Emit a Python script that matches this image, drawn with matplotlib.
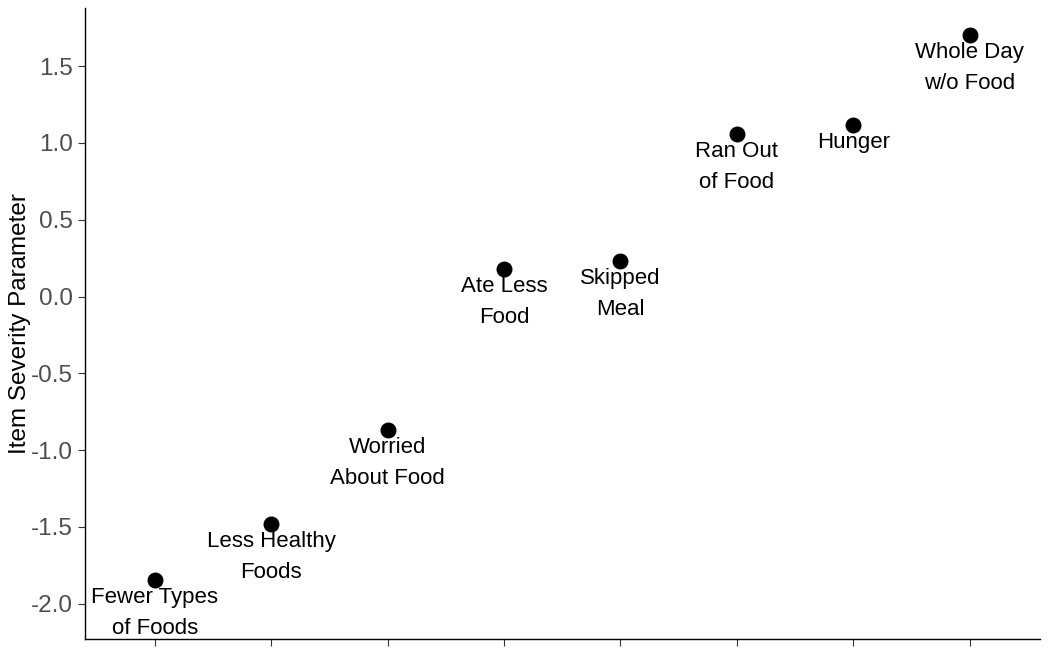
import matplotlib.pyplot as plt

plt.rcParams['font.family'] = ['Liberation Sans', 'DejaVu Sans']

# item labels and severity estimates
items = ['Fewer Types\nof Foods', 'Less Healthy\nFoods', 'Worried\nAbout Food',
         'Ate Less\nFood', 'Skipped\nMeal', 'Ran Out\nof Food', 'Hunger',
         'Whole Day\nw/o Food']
severity = [-1.845, -1.48, -0.87, 0.18, 0.23, 1.06, 1.12, 1.70]
yticks = [-2.0, -1.5, -1.0, -0.5, 0.0, 0.5, 1.0, 1.5]

fig = plt.figure(figsize=(10.5, 6.5), dpi=100)
ax = fig.add_axes([0.081, 0.017, 0.909, 0.971])

pos = list(range(1, len(items) + 1))
ax.scatter(pos, severity, s=110, color='black', zorder=3)

for x, y, lab in zip(pos, severity, items):
    ax.annotate(lab, (x, y), xytext=(0, -7), textcoords='offset pixels',
                ha='center', va='top', fontsize=16, linespacing=1.62,
                color='black')

ax.set_xlim(0.4, 8.6)
ax.set_ylim(-2.23, 1.88)
ax.set_xticks(pos)
ax.set_xticklabels([])
ax.set_yticks(yticks)
ax.set_yticklabels(['%.1f' % v for v in yticks], fontsize=17.5, color='#4D4D4D')
ax.tick_params(axis='both', length=5, color='#333333', width=0.8)
ax.set_ylabel('Item Severity Parameter', fontsize=17.5, color='black', labelpad=0)

for s in ['top', 'right']:
    ax.spines[s].set_visible(False)
for s in ['left', 'bottom']:
    ax.spines[s].set_color('black')
    ax.spines[s].set_linewidth(1.0)

fig.savefig('out.png', dpi=100)
